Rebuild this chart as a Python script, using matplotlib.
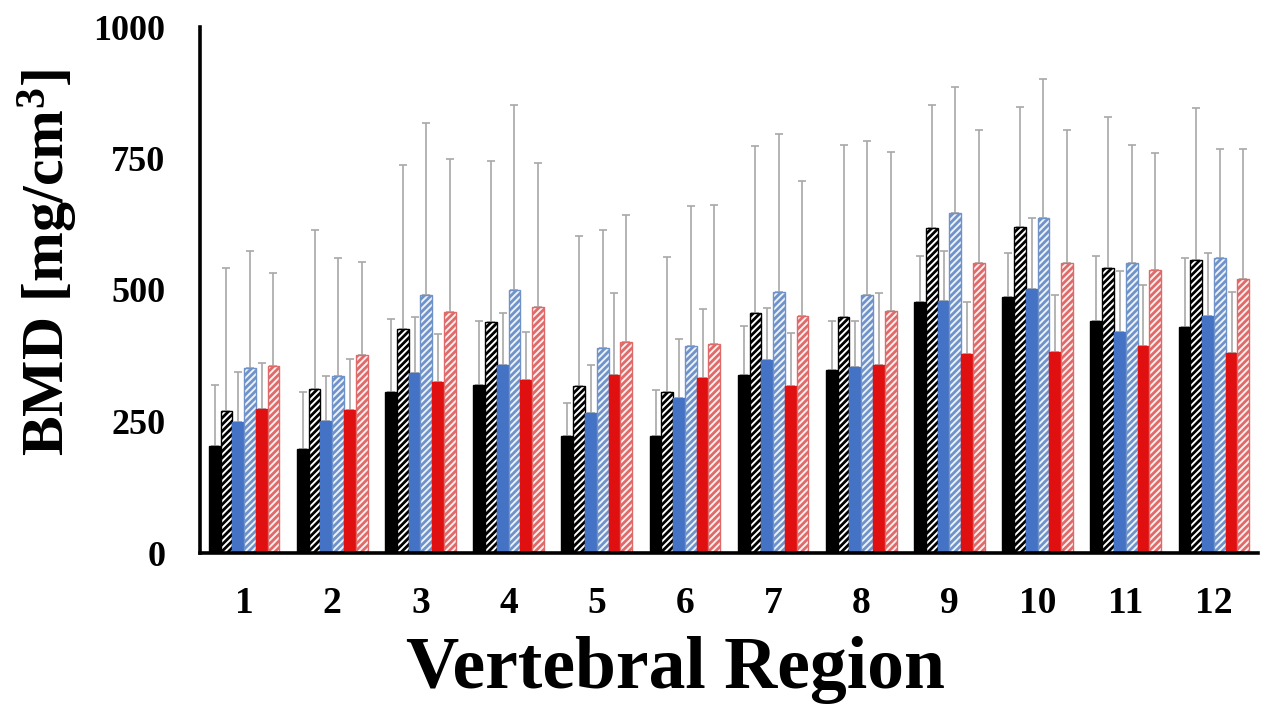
import numpy as np
import matplotlib
matplotlib.use('Agg')
import matplotlib.pyplot as plt

plt.rcParams['font.family'] = ['Liberation Serif', 'DejaVu Serif']
plt.rcParams['font.weight'] = 'bold'
plt.rcParams['mathtext.fontset'] = 'custom'
plt.rcParams['mathtext.rm'] = 'Liberation Serif:bold'
plt.rcParams['mathtext.bf'] = 'Liberation Serif:bold'
plt.rcParams['mathtext.it'] = 'Liberation Serif:bold'
plt.rcParams['hatch.linewidth'] = 2.0

# data (mean and SD per vertebral region)
regions = [str(i) for i in range(1, 13)]

black_solid = [204, 198, 307, 319, 223, 223, 338, 348, 478, 486, 441, 429]
black_solid_sd = [115, 108, 138, 123, 62, 86, 94, 94, 87, 84, 124, 132]

black_hatch = [270, 312, 426, 440, 317, 306, 457, 449, 618, 620, 542, 557]
black_hatch_sd = [271, 303, 312, 305, 286, 257, 316, 327, 233, 227, 286, 289]

blue_solid = [249, 251, 343, 358, 266, 295, 366, 353, 479, 502, 420, 450]
blue_solid_sd = [96, 85, 106, 99, 91, 111, 99, 89, 95, 134, 116, 121]

blue_hatch = [352, 336, 490, 500, 389, 394, 496, 490, 646, 636, 552, 561]
blue_hatch_sd = [222, 224, 328, 351, 226, 266, 301, 293, 239, 265, 223, 208]

red_solid = [274, 272, 326, 328, 338, 333, 318, 358, 379, 383, 393, 380]
red_solid_sd = [88, 96, 91, 93, 157, 131, 100, 137, 99, 107, 116, 116]

red_hatch = [356, 377, 459, 468, 401, 398, 450, 460, 552, 552, 538, 521]
red_hatch_sd = [177, 177, 291, 273, 241, 264, 257, 303, 252, 252, 222, 247]

series = [
    (black_solid, black_solid_sd, '#000000', '#000000', ''),
    (black_hatch, black_hatch_sd, 'white', '#000000', '/////'),
    (blue_solid, blue_solid_sd, '#4472c4', '#4472c4', ''),
    (blue_hatch, blue_hatch_sd, '#eef3fa', '#6f93c9', '/////'),
    (red_solid, red_solid_sd, '#e01010', '#e01010', ''),
    (red_hatch, red_hatch_sd, '#fdf0f0', '#df6a6a', '/////'),
]

fig = plt.figure(figsize=(12.68, 7.06), dpi=100)
ax = fig.add_axes([200 / 1268, 1 - 553 / 706, 1058 / 1268, 526 / 706])

x = np.arange(len(regions))
width = 0.8 / len(series)

for i, (vals, sd, face, edge, hatch) in enumerate(series):
    pos = x + (i - (len(series) - 1) / 2) * width
    vals = np.array(vals)
    sd = np.array(sd)
    ax.bar(pos, vals, width, color=face, edgecolor=edge, hatch=hatch,
           linewidth=1.0, zorder=2)
    ax.errorbar(pos, vals, yerr=[np.zeros_like(sd), sd], fmt='none',
                ecolor='#a8a8a8', elinewidth=1.2, capsize=3, capthick=1.2,
                zorder=1)

ax.set_xlim(-0.5, len(regions) - 0.5)
ax.set_ylim(0, 1000)
ax.set_yticks([0, 250, 500, 750, 1000])
ax.set_xticks(x)
ax.set_xticklabels(regions)

ax.tick_params(axis='y', length=0, pad=25, labelsize=26)
ax.tick_params(axis='x', length=0, pad=24, labelsize=27)
for lab in ax.get_xticklabels() + ax.get_yticklabels():
    lab.set_fontweight('bold')

for s in ['top', 'right']:
    ax.spines[s].set_visible(False)
for s in ['left', 'bottom']:
    ax.spines[s].set_linewidth(2.6)
    ax.spines[s].set_color('black')

fig.text(0.5 * (387 + 965) / 1268, 1 - 670 / 706, 'Vertebral Region',
         fontsize=53, fontweight='bold', ha='center', va='center')
fig.text(48 / 1268, 1 - 262 / 706, 'BMD [mg/cm$^{3}$]',
         fontsize=43, fontweight='bold', ha='center', va='center',
         rotation=90)

fig.savefig('out.png', dpi=100)
